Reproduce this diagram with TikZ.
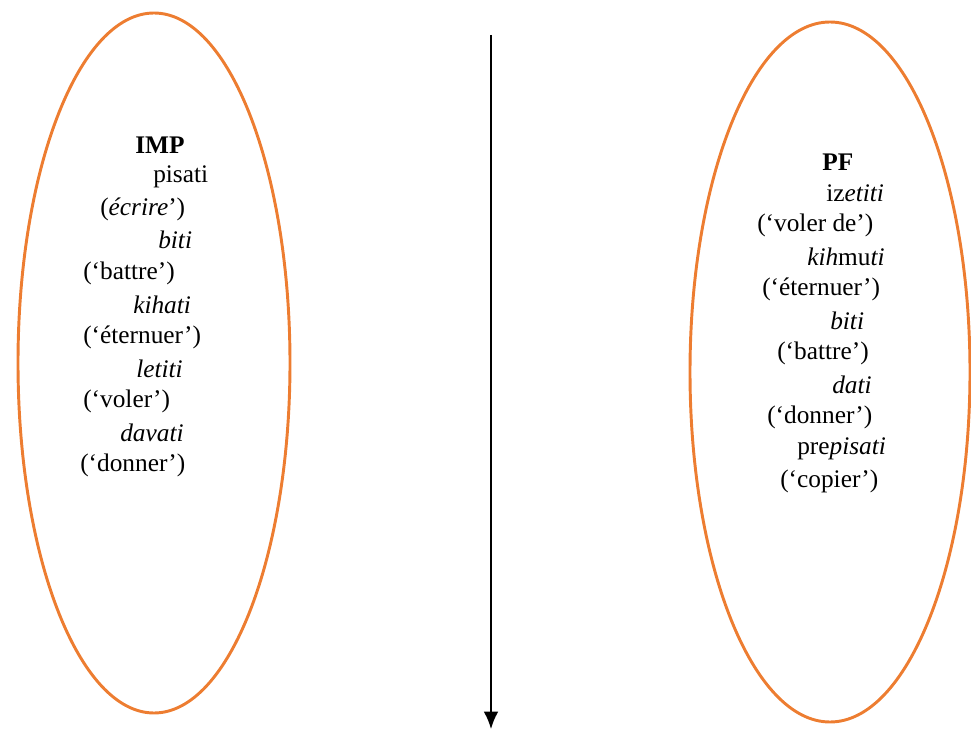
\documentclass[tikz,border=0pt]{standalone}
\usepackage{fontspec}
\setmainfont{Liberation Serif}
\usepackage{tikz}
\usetikzlibrary{arrows.meta}

\definecolor{ovalorange}{RGB}{237,125,49}

\begin{document}
\begin{tikzpicture}[x=0.75pt,y=0.75pt,yscale=-1,xscale=1]
\tikzset{
  oval/.style={draw=ovalorange,line width=2.2pt},
  word/.style={anchor=west,inner sep=0pt,font=\fontsize{19pt}{23pt}\selectfont},
}
\useasboundingbox (0,0) rectangle (971,731);

%Ellipses
\draw[oval] (154,363) ellipse [x radius=136, y radius=350];
\draw[oval] (830,372) ellipse [x radius=140, y radius=350];

%Arrow
\coordinate (atop) at (491,35);
\coordinate (abot) at (491,729);
\draw[line width=1.3pt,-{Latex[length=13pt,width=11pt]}] (atop) -- (abot);

% Left column
\foreach \x/\y/\t/\n in {135/145/\textbf{IMP}/imp,
  153/177/pisati/la, 100/209/(\textit{écrire}')/lb,
  158/240/\textit{biti}/lc, 83/273/(`battre')/ld,
  133/305/\textit{kihati}/le, 83/337/(`éternuer')/lf,
  136/369/\textit{letiti}/lg, 83/401/(`voler')/lh,
  120/433/\textit{davati}/li, 80/465/(`donner')/lj}
  \node[word] (\n) at (\x,\y) {\t};

% Right column
\foreach \x/\y/\t/\n in {822/162/\textbf{PF}/pf,
  826/193/iz\textit{etiti}/ra, 757/225/(`voler de')/rb,
  807/257/\textit{kih}mu\textit{ti}/rc, 762/289/(`éternuer')/rd,
  830/321/\textit{biti}/re, 777/353/(`battre')/rf,
  832/385/\textit{dati}/rg, 767/417/(`donner')/rh,
  797/449/pre\textit{pisati}/ri, 780/481/(`copier')/rj}
  \node[word] (\n) at (\x,\y) {\t};

\end{tikzpicture}
\end{document}
